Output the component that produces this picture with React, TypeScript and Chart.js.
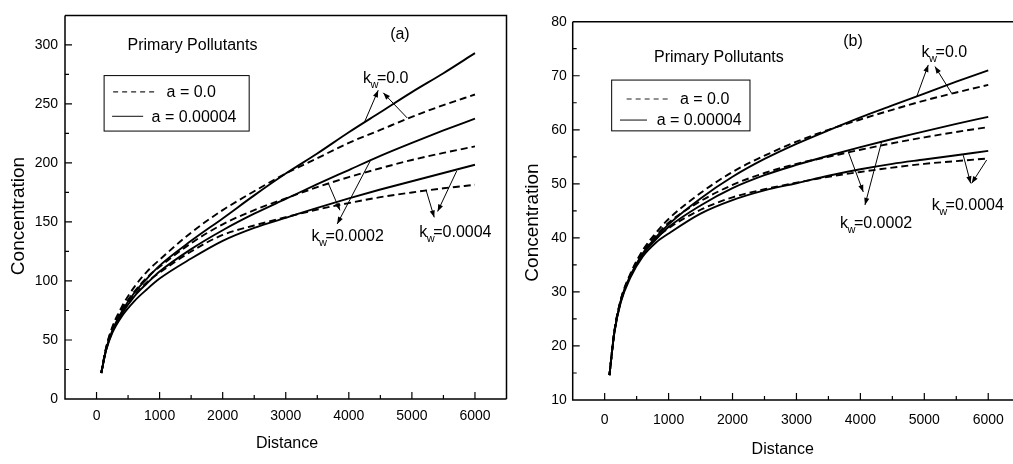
import React, { useEffect, useRef } from "react";
import { Chart, registerables } from "chart.js";

Chart.register(...registerables);

// ---------------- data ----------------
const distance = [75, 150, 250, 400, 600, 800, 1000, 1500, 2000, 2500, 3000, 3500, 4000, 4500, 5000, 5500, 6000];

// panel (a)
const aKw0A0 = [22, 43, 61, 78, 95, 108, 118, 141, 160, 176, 191, 204, 217, 228, 239, 249, 258];
const aKw0A4 = [22, 42, 58, 74, 90, 102, 113, 134, 153, 172.5, 191, 208, 226, 243, 260, 276, 293];
const aKw2A0 = [22, 43, 60, 76, 91, 103, 112, 132, 148, 160, 170, 179.5, 188, 195.5, 202.5, 208.5, 214];
const aKw2A4 = [22, 41, 57, 72, 87, 98, 108, 127, 143, 157, 169.5, 182, 194, 206, 217, 227.5, 237.5];
const aKw4A0 = [22, 42, 59, 74, 88, 99, 107, 125, 139, 147, 154, 160.5, 166, 171, 175, 178.5, 181.5];
const aKw4A4 = [22, 41, 56, 70, 83, 93, 102, 119, 134, 145, 153.5, 162, 170, 177.5, 184.5, 191.5, 198.5];

// panel (b)
const bKw0A0 = [14.6, 22.6, 28.5, 33.3, 37.8, 40.9, 43.5, 48.3, 52.2, 55.2, 57.8, 60.0, 61.9, 63.7, 65.4, 66.9, 68.3];
const bKw0A4 = [14.6, 22.4, 28.3, 33.0, 37.2, 40.1, 42.5, 47.3, 51.3, 54.6, 57.4, 59.9, 62.3, 64.5, 66.7, 68.9, 71.0];
const bKw2A0 = [14.6, 22.5, 28.4, 33.1, 37.5, 40.4, 42.8, 46.8, 49.8, 52.0, 53.7, 55.0, 56.3, 57.5, 58.6, 59.6, 60.5];
const bKw2A4 = [14.6, 22.4, 28.2, 32.8, 37.0, 39.7, 42.0, 46.0, 49.2, 51.6, 53.5, 55.2, 56.8, 58.3, 59.7, 61.1, 62.4];
const bKw4A0 = [14.6, 22.5, 28.3, 33.0, 37.2, 39.9, 41.8, 45.2, 47.5, 49.0, 50.2, 51.3, 52.2, 53.0, 53.7, 54.2, 54.7];
const bKw4A4 = [14.6, 22.3, 28.0, 32.6, 36.6, 39.1, 40.8, 44.5, 47.0, 48.8, 50.1, 51.5, 52.7, 53.7, 54.5, 55.3, 56.1];

// ticks and labels
const distanceTicks = [0, 1000, 2000, 3000, 4000, 5000, 6000];
const concTicksA = [0, 50, 100, 150, 200, 250, 300];
const concTicksB = [10, 20, 30, 40, 50, 60, 70, 80];
const legendLabels = ["a = 0.0", "a = 0.00004"];
const kwValues = ["0.0", "0.0002", "0.0004"];
const panelTags = ["(a)", "(b)"];
const noteText = "Primary Pollutants";
const xTitle = "Distance";
const yTitle = "Concentration";

// ---------------- layout / style ----------------
const FONT = '"Liberation Sans", Arial, Helvetica, sans-serif';
const INK = "#000";

type Arrow = [number, number, number, number];
interface PanelSpec {
  left: number;
  width: number;
  yAxisW: number;
  xAxisH: number;
  padTop: number;
  padRight: number;
  xMin: number;
  xMax: number;
  yMin: number;
  yMax: number;
  yTicks: number[];
  yMinor: number;
  xLabelCenter: number;
  yLabelPad: number;
  yTitlePos: [number, number];
  xTitlePos: [number, number];
  tag: string;
  tagPos: [number, number];
  notePos: [number, number];
  legendBox: [number, number, number, number];
  legendRows: { y: number; x1: number; x2: number; tx: number; dashed: boolean; label: string }[];
  kw: { value: string; x: number; y: number }[];
  arrows: Arrow[];
  series: { values: number[]; dashed: boolean }[];
}

const panels: PanelSpec[] = [
  {
    left: 0,
    width: 512,
    yAxisW: 65,
    xAxisH: 65,
    padTop: 7,
    padRight: 5.5,
    xMin: -500,
    xMax: 6500,
    yMin: 0,
    yMax: 325,
    yTicks: concTicksA,
    yMinor: 25,
    xLabelCenter: 17,
    yLabelPad: 7,
    yTitlePos: [18.5, 216],
    xTitlePos: [287, 444],
    tag: panelTags[0],
    tagPos: [4810, 305.2],
    notePos: [492, 295.3],
    legendBox: [120, 274, 2420, 227],
    legendRows: [
      { y: 260.2, x1: 263, x2: 952, tx: 1110, dashed: true, label: legendLabels[0] },
      { y: 239.5, x1: 247, x2: 739, tx: 872, dashed: false, label: legendLabels[1] },
    ],
    kw: [
      { value: kwValues[0], x: 4224, y: 267.7 },
      { value: kwValues[1], x: 3410, y: 134 },
      { value: kwValues[2], x: 5117, y: 137.3 },
    ],
    arrows: [
      [4244, 234, 4466, 261.6],
      [4926, 238.1, 4546, 259.4],
      [3673, 182.9, 3859, 159.9],
      [4350, 202.8, 3816, 148.3],
      [5223, 177.3, 5354, 153.9],
      [5710, 193.1, 5408, 158.9],
    ],
    series: [
      { values: aKw0A0, dashed: true },
      { values: aKw0A4, dashed: false },
      { values: aKw2A0, dashed: true },
      { values: aKw2A4, dashed: false },
      { values: aKw4A0, dashed: true },
      { values: aKw4A4, dashed: false },
    ],
  },
  {
    left: 512,
    width: 514,
    yAxisW: 60.7,
    xAxisH: 64,
    padTop: 21.7,
    padRight: 5.8,
    xMin: -500,
    xMax: 6500,
    yMin: 10,
    yMax: 80,
    yTicks: concTicksB,
    yMinor: 5,
    xLabelCenter: 20,
    yLabelPad: 6,
    yTitlePos: [20.7, 222.5],
    xTitlePos: [270.7, 450],
    tag: panelTags[1],
    tagPos: [3884, 75.5],
    notePos: [771, 72.5],
    legendBox: [109.5, 69.2, 2273, 59.8],
    legendRows: [
      { y: 65.7, x1: 344, x2: 1048, tx: 1178, dashed: true, label: legendLabels[0] },
      { y: 61.8, x1: 239, x2: 662, tx: 813, dashed: false, label: legendLabels[1] },
    ],
    kw: [
      { value: kwValues[0], x: 4958, y: 73.4 },
      { value: kwValues[1], x: 3681, y: 41.8 },
      { value: kwValues[2], x: 5115, y: 45.2 },
    ],
    arrows: [
      [4880, 66.1, 5062, 72.0],
      [5428, 66.75, 5167, 71.7],
      [3810, 55.95, 4045, 48.5],
      [4333, 57.8, 4072, 46.1],
      [5609, 55.3, 5725, 50.1],
      [5975, 54.4, 5741, 50.1],
    ],
    series: [
      { values: bKw0A0, dashed: true },
      { values: bKw0A4, dashed: false },
      { values: bKw2A0, dashed: true },
      { values: bKw2A4, dashed: false },
      { values: bKw4A0, dashed: true },
      { values: bKw4A4, dashed: false },
    ],
  },
];

function pickTickFont() {
  const ctx = document.createElement("canvas").getContext("2d");
  if (ctx) {
    ctx.font = '15px "Liberation Sans Narrow", monospace';
    const a = ctx.measureText("1000").width;
    ctx.font = "15px monospace";
    const b = ctx.measureText("1000").width;
    if (Math.abs(a - b) > 0.5) {
      return { family: '"Liberation Sans Narrow", "Liberation Sans", sans-serif', size: 15 };
    }
  }
  return { family: FONT, size: 14 };
}

function drawArrow(ctx: CanvasRenderingContext2D, x1: number, y1: number, x2: number, y2: number) {
  ctx.beginPath();
  ctx.moveTo(x1, y1);
  ctx.lineTo(x2, y2);
  ctx.stroke();
  const ang = Math.atan2(y2 - y1, x2 - x1);
  const L = 7;
  const W = 2.6;
  const c = Math.cos(ang);
  const s = Math.sin(ang);
  ctx.beginPath();
  ctx.moveTo(x2, y2);
  ctx.lineTo(x2 - L * c + W * s, y2 - L * s - W * c);
  ctx.lineTo(x2 - L * c - W * s, y2 - L * s + W * c);
  ctx.closePath();
  ctx.fill();
}

function drawKw(ctx: CanvasRenderingContext2D, x: number, y: number, value: string) {
  ctx.textAlign = "left";
  ctx.textBaseline = "alphabetic";
  ctx.font = `16px ${FONT}`;
  ctx.fillText("k", x, y);
  const wk = ctx.measureText("k").width;
  ctx.font = `11px ${FONT}`;
  ctx.fillText("w", x + wk - 0.5, y + 5);
  const ww = ctx.measureText("w").width;
  ctx.font = `16px ${FONT}`;
  ctx.fillText("=" + value, x + wk + ww - 2, y);
}

function makeFramePlugin(spec: PanelSpec) {
  return {
    id: "frameAndNotes",
    afterDraw(chart: any) {
      const ctx: CanvasRenderingContext2D = chart.ctx;
      const xs = chart.scales.x;
      const ys = chart.scales.y;
      const { left, right, top, bottom } = chart.chartArea;
      const X = (v: number) => xs.getPixelForValue(v);
      const Y = (v: number) => ys.getPixelForValue(v);
      ctx.save();
      ctx.strokeStyle = INK;
      ctx.fillStyle = INK;

      // frame
      ctx.lineWidth = 1.5;
      ctx.beginPath();
      ctx.moveTo(left, top);
      ctx.lineTo(left, bottom);
      ctx.lineTo(right, bottom);
      ctx.moveTo(left, top);
      ctx.lineTo(right, top);
      ctx.lineTo(right, bottom);
      ctx.stroke();

      // inward ticks
      ctx.lineWidth = 1.2;
      ctx.beginPath();
      for (let v = Math.ceil(spec.xMin / 500) * 500; v <= spec.xMax; v += 500) {
        if (v === spec.xMin || v === spec.xMax) continue;
        const len = distanceTicks.includes(v) ? 7 : 4;
        const px = X(v);
        ctx.moveTo(px, bottom);
        ctx.lineTo(px, bottom - len);
      }
      for (let v = Math.ceil(spec.yMin / spec.yMinor) * spec.yMinor; v <= spec.yMax; v += spec.yMinor) {
        if (v === spec.yMin || v === spec.yMax) continue;
        const len = spec.yTicks.includes(v) ? 7 : 4;
        const py = Y(v);
        ctx.moveTo(left, py);
        ctx.lineTo(left + len, py);
      }
      ctx.stroke();

      // axis titles
      ctx.textAlign = "center";
      ctx.textBaseline = "middle";
      ctx.font = `16px ${FONT}`;
      ctx.fillText(xTitle, spec.xTitlePos[0], spec.xTitlePos[1]);
      ctx.save();
      ctx.translate(spec.yTitlePos[0], spec.yTitlePos[1]);
      ctx.rotate(-Math.PI / 2);
      ctx.font = `19px ${FONT}`;
      ctx.fillText(yTitle, 0, 0);
      ctx.restore();

      // panel tag and note
      ctx.font = `16px ${FONT}`;
      ctx.textAlign = "center";
      ctx.textBaseline = "alphabetic";
      ctx.fillText(spec.tag, X(spec.tagPos[0]), Y(spec.tagPos[1]));
      ctx.textAlign = "left";
      ctx.fillText(noteText, X(spec.notePos[0]), Y(spec.notePos[1]));

      // legend box
      const [bx1, by1, bx2, by2] = spec.legendBox;
      ctx.lineWidth = 1;
      ctx.strokeRect(X(bx1), Y(by1), X(bx2) - X(bx1), Y(by2) - Y(by1));
      for (const row of spec.legendRows) {
        ctx.save();
        ctx.lineWidth = 1.1;
        ctx.strokeStyle = "#222";
        ctx.setLineDash(row.dashed ? [5, 4] : []);
        ctx.beginPath();
        ctx.moveTo(X(row.x1), Y(row.y));
        ctx.lineTo(X(row.x2), Y(row.y));
        ctx.stroke();
        ctx.restore();
        ctx.font = `16px ${FONT}`;
        ctx.textAlign = "left";
        ctx.textBaseline = "middle";
        ctx.fillText(row.label, X(row.tx), Y(row.y) + 1);
      }

      // kw labels
      for (const k of spec.kw) drawKw(ctx, X(k.x), Y(k.y), k.value);

      // arrows
      ctx.lineWidth = 1;
      for (const a of spec.arrows) drawArrow(ctx, X(a[0]), Y(a[1]), X(a[2]), Y(a[3]));

      ctx.restore();
    },
  };
}

function buildConfig(spec: PanelSpec, tickFont: { family: string; size: number }): any {
  const lh = tickFont.size * 1.2;
  return {
    type: "line",
    data: {
      datasets: spec.series.map((s) => ({
        data: distance.map((x, i) => ({ x, y: s.values[i] })),
        borderColor: INK,
        borderWidth: 1.9,
        borderDash: s.dashed ? [7, 4] : [],
        pointRadius: 0,
        fill: false,
        cubicInterpolationMode: "monotone",
      })),
    },
    options: {
      animation: false,
      responsive: false,
      devicePixelRatio: 1,
      layout: { padding: { left: 0, top: spec.padTop, right: spec.padRight, bottom: 0 } },
      plugins: { legend: { display: false }, tooltip: { enabled: false }, title: { display: false } },
      scales: {
        x: {
          type: "linear",
          min: spec.xMin,
          max: spec.xMax,
          afterBuildTicks: (s: any) => {
            s.ticks = distanceTicks.map((v) => ({ value: v }));
          },
          afterFit: (s: any) => {
            s.height = spec.xAxisH;
          },
          grid: { display: false, drawTicks: false },
          border: { display: false },
          ticks: {
            autoSkip: false,
            maxRotation: 0,
            color: INK,
            font: { family: tickFont.family, size: tickFont.size },
            padding: spec.xLabelCenter - lh / 2,
            callback: (v: any) => String(v),
          },
        },
        y: {
          type: "linear",
          min: spec.yMin,
          max: spec.yMax,
          afterBuildTicks: (s: any) => {
            s.ticks = spec.yTicks.map((v) => ({ value: v }));
          },
          afterFit: (s: any) => {
            s.width = spec.yAxisW;
          },
          grid: { display: false, drawTicks: false },
          border: { display: false },
          ticks: {
            autoSkip: false,
            color: INK,
            font: { family: tickFont.family, size: tickFont.size },
            padding: spec.yLabelPad,
            callback: (v: any) => String(v),
          },
        },
      },
    },
    plugins: [makeFramePlugin(spec)],
  };
}

function Panel({ spec }: { spec: PanelSpec }) {
  const ref = useRef<HTMLCanvasElement | null>(null);
  useEffect(() => {
    if (!ref.current) return;
    const chart = new Chart(ref.current, buildConfig(spec, pickTickFont()));
    return () => chart.destroy();
  }, [spec]);
  return (
    <canvas
      ref={ref}
      width={spec.width}
      height={464}
      style={{ position: "absolute", left: spec.left, top: 0, width: spec.width, height: 464 }}
    />
  );
}

export default function App() {
  return (
    <div
      style={{
        position: "fixed",
        left: 0,
        top: 0,
        width: 1013,
        height: 464,
        overflow: "hidden",
        background: "#fff",
      }}
    >
      {panels.map((p, i) => (
        <Panel key={i} spec={p} />
      ))}
    </div>
  );
}
